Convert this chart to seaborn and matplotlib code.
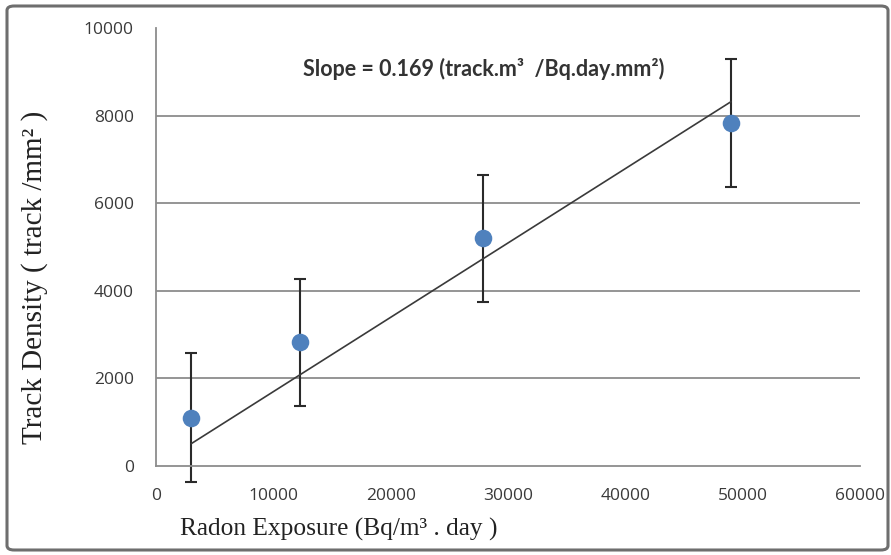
import numpy as np
import pandas as pd
import seaborn as sns
import matplotlib
matplotlib.use("Agg")
import matplotlib.pyplot as plt
from matplotlib.patches import FancyBboxPatch

# ---- data ----
exposure = [3000, 12300, 27900, 49000]          # Bq/m3 . day
density = [1100, 2830, 5200, 7830]              # track/mm2
errors = [1470, 1450, 1450, 1470]
x_ticks = [0, 10000, 20000, 30000, 40000, 50000, 60000]
y_ticks = [0, 2000, 4000, 6000, 8000, 10000]
slope_label = "Slope = 0.169 (track.m\u00b3  /Bq.day.mm\u00b2)"

df = pd.DataFrame({"exposure": exposure, "density": density, "err": errors})

sns.set_theme(style="white")
plt.rcParams["font.family"] = ["Liberation Sans", "DejaVu Sans"]

fig = plt.figure(figsize=(8.91, 5.55), dpi=100)
ax = fig.add_axes([156 / 891, 89 / 555, 704 / 891, 438 / 555])

grid_c = "#8c8c8c"
for yt in y_ticks[1:-1]:
    ax.axhline(yt, color=grid_c, lw=1.3, zorder=1)

# regression through origin
xs = np.array(exposure, dtype=float)
ys = np.array(density, dtype=float)
k = (xs * ys).sum() / (xs * xs).sum()
lx = np.array([xs.min(), xs.max()])
ax.plot(lx, k * lx, color="#3a3a3a", lw=1.2, zorder=3)

ax.errorbar(df["exposure"], df["density"], yerr=df["err"], fmt="none",
            ecolor="#2a2a2a", elinewidth=1.5, capsize=4.5, capthick=1.5,
            zorder=2, clip_on=False)
sns.scatterplot(data=df, x="exposure", y="density", s=160, color="#4f81bd",
                edgecolor="#4f81bd", linewidth=0, ax=ax, zorder=4, clip_on=False)

ax.set_xlim(0, 60000)
ax.set_ylim(0, 10000)
ax.set_xticks(x_ticks)
ax.set_yticks(y_ticks)
ax.set_xticklabels([str(t) for t in x_ticks])
ax.set_yticklabels([str(t) for t in y_ticks])
for s in ["top", "right"]:
    ax.spines[s].set_visible(False)
for s in ["left", "bottom"]:
    ax.spines[s].set_color(grid_c)
    ax.spines[s].set_linewidth(1.3)
ax.tick_params(axis="both", direction="out", length=6, width=1.3, color=grid_c,
               labelsize=12.5, labelcolor="#3a3a3a")
ax.tick_params(axis="x", pad=10)
ax.tick_params(axis="y", pad=10)
for lab in ax.get_xticklabels() + ax.get_yticklabels():
    lab.set_family(["Open Sans", "DejaVu Sans"])
ax.set_xlabel("")
ax.set_ylabel("")

fig.text(35 / 891, 1 - 277 / 555, "Track Density ( track /mm\u00b2 )",
         rotation=90, ha="center", va="center", fontsize=21,
         family=["Liberation Serif", "DejaVu Serif"], color="#222222")
fig.text(180 / 891, 1 - 529 / 555, "Radon Exposure (Bq/m\u00b3 . day )",
         ha="left", va="center", fontsize=18.3,
         family=["Liberation Serif", "DejaVu Serif"], color="#222222")
fig.text(484 / 891, 1 - 69 / 555, slope_label, ha="center", va="center",
         fontsize=15.5, fontweight="bold", family=["Lato", "DejaVu Sans"],
         color="#333333")

border = FancyBboxPatch((7 / 891, 5 / 555), 881 / 891, 544 / 555,
                        boxstyle="round,pad=0,rounding_size=0.008",
                        transform=fig.transFigure, fill=False,
                        edgecolor="#6e6e6e", lw=2.2)
fig.patches.append(border)

fig.savefig("out.png", dpi=100)
